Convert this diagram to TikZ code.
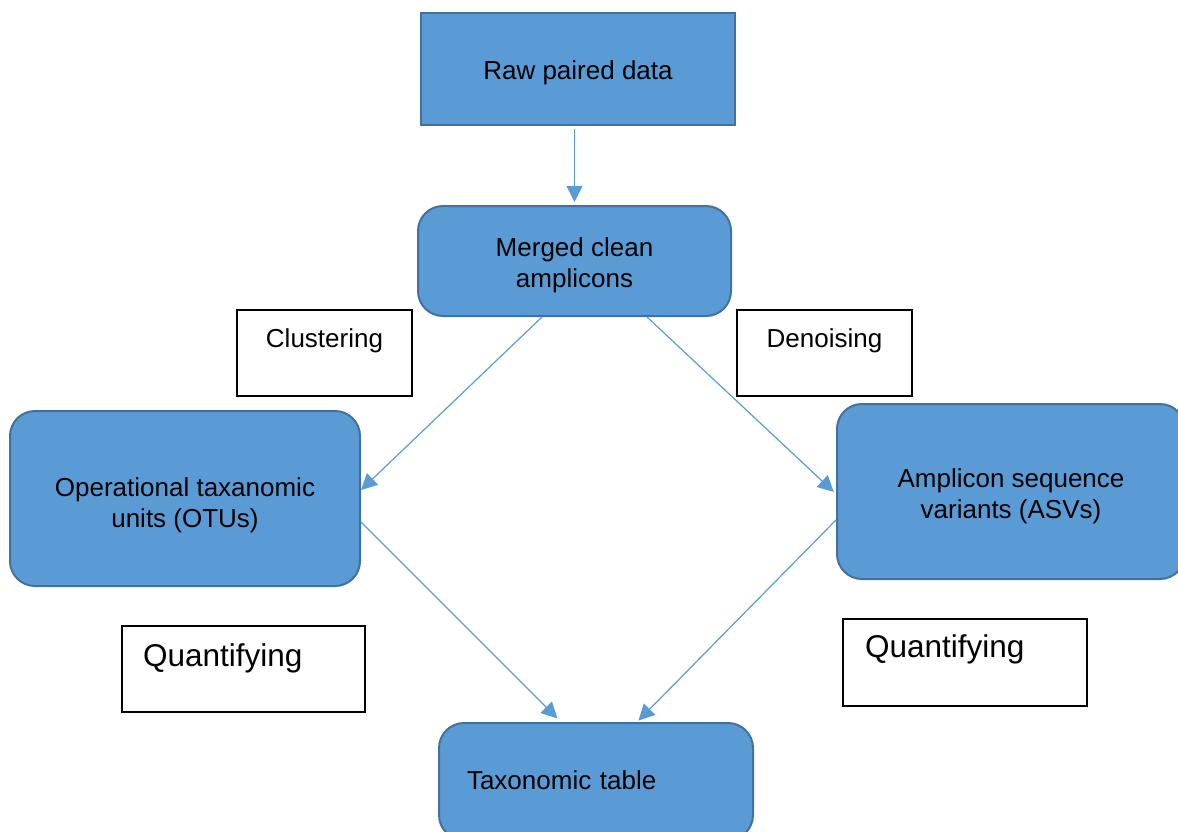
\documentclass[tikz,border=0pt]{standalone}
\usepackage{fontspec}
\setmainfont{Liberation Sans}
\usetikzlibrary{positioning,arrows.meta,calc}
\definecolor{boxfill}{HTML}{5B9BD5}
\definecolor{boxline}{HTML}{41719C}

\begin{document}
\begin{tikzpicture}[x=1pt,y=-1pt,
stage/.style={
% The shape:
rectangle, inner sep=0pt,
% The rest
line width=2pt, draw=boxline, fill=boxfill,
align=center, font=\fontsize{26}{31}\selectfont},
roundstage/.style={stage, rounded corners=25pt},
note/.style={rectangle, inner ysep=0pt, line width=2pt, draw=black, fill=white,
font=\fontsize{26}{31}\selectfont},
bignote/.style={note, align=left, font=\fontsize{31.5}{36}\selectfont},
flow/.style={draw=boxfill, line width=1.2pt, -{Triangle[length=16pt,width=16pt]}}]

\useasboundingbox (0,0) rectangle (1178,831);

\node (Raw) [stage, minimum width=314pt, minimum height=112pt,
  text height=20pt, text depth=0pt] at (578,69) {Raw paired data};
\node (Merged) [roundstage, minimum width=313pt, minimum height=110pt,
  text height=52pt, text depth=0pt] at (574.5,261) {Merged clean\\amplicons};
\node (OTU) [roundstage, minimum width=350pt, minimum height=175pt,
  text height=57pt, text depth=0pt] at (185,498.5) {Operational taxanomic\\units (OTUs)};
\node (ASV) [roundstage, minimum width=348pt, minimum height=175pt,
  text height=53pt, text depth=0pt] at (1011,491.5) {Amplicon sequence\\variants (ASVs)};
\node (Table) [roundstage, inner xsep=28pt, text width=258pt, align=left,
  text height=66pt, text depth=51pt] at (596,781.5) {Taxonomic table};

\node (Clust) [note, minimum width=175pt, text height=37pt, text depth=49pt] at (324.5,353) {Clustering};
\node (Denoise) [note, minimum width=175pt, text height=37pt, text depth=49pt] at (824.5,353) {Denoising};
\node (QuantL) [bignote, inner xsep=21pt, text width=201pt, text height=40pt, text depth=46pt] at (243.5,669) {Quantifying};
\node (QuantR) [bignote, inner xsep=22pt, text width=200pt, text height=38pt, text depth=49pt] at (965,662.5) {Quantifying};

\path
($(Raw.south -| Merged.north)+(0,3)$) edge[flow, shorten >=3pt] (Merged.north) % straight down
([xshift=-32.5pt]Merged.south) edge[flow] ([yshift=8.5pt]OTU.east)
([xshift=72.5pt]Merged.south) edge[flow, shorten >=3pt] ([yshift=-2.5pt]ASV.west)
([yshift=-23.5pt]OTU.east) edge[flow, shorten >=5pt] ([xshift=-35pt]Table.north)
([yshift=-28.5pt]ASV.west) edge[flow, shorten >=2pt] ([xshift=41pt]Table.north);

\end{tikzpicture}
\end{document}
